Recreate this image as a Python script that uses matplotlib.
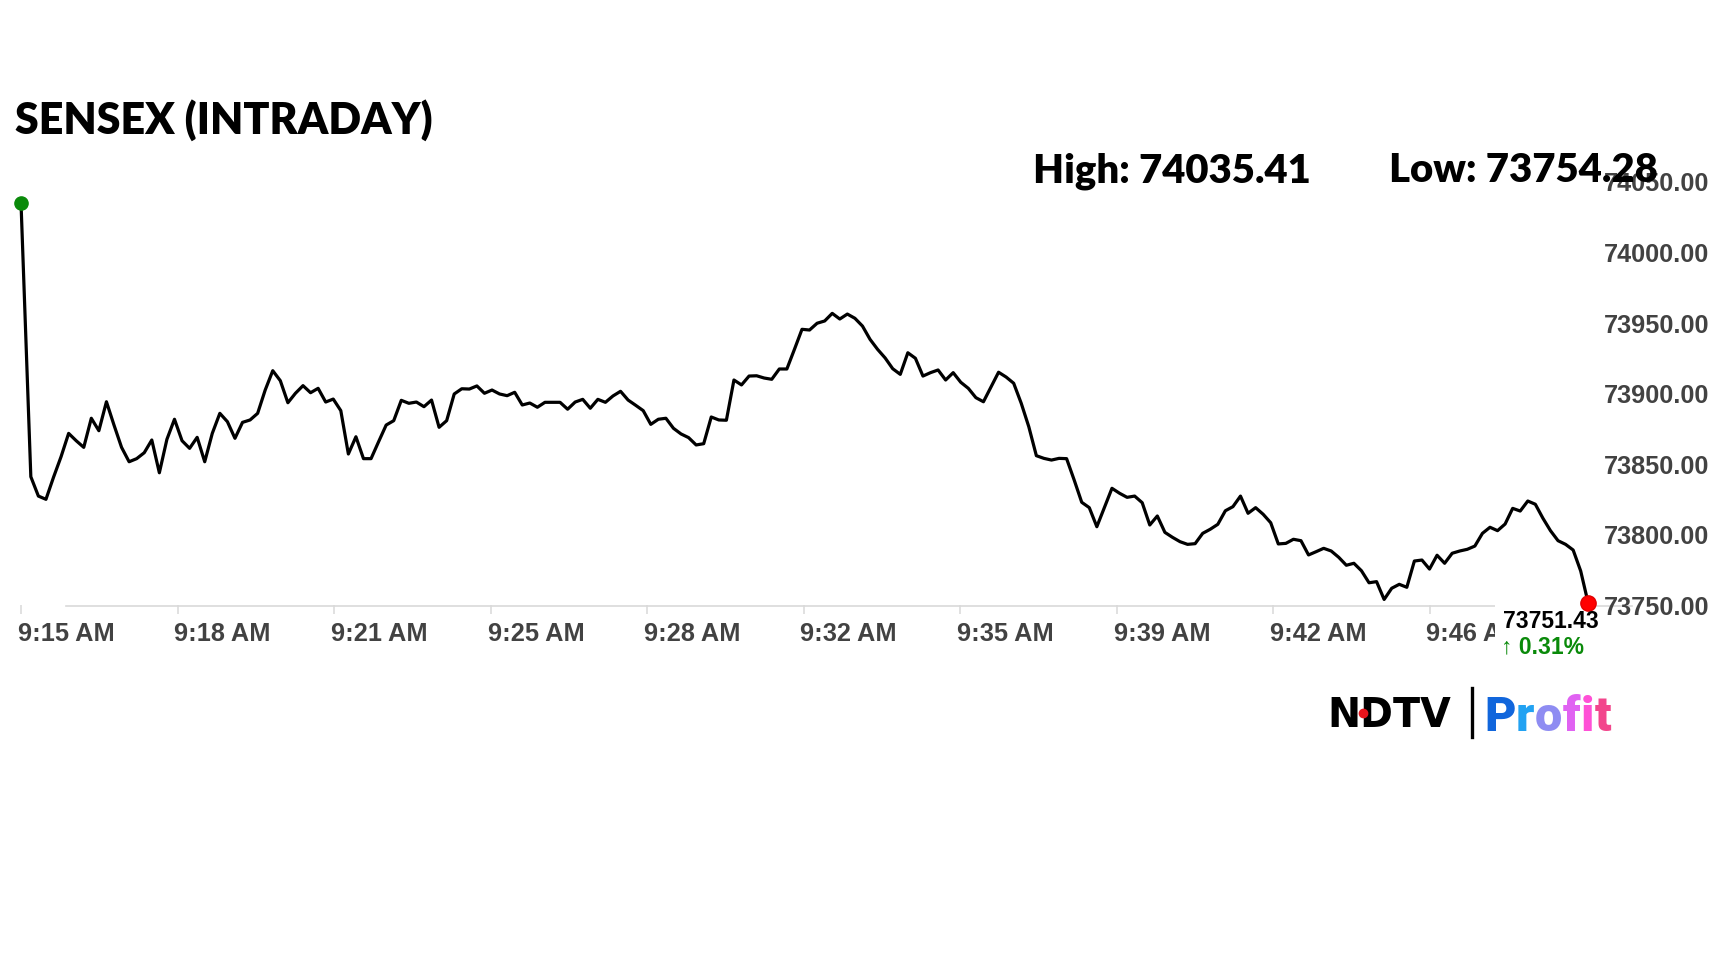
import numpy as np
import matplotlib
matplotlib.use("Agg")
import matplotlib.pyplot as plt
from matplotlib.transforms import ScaledTranslation
from matplotlib.patches import Rectangle
from matplotlib.lines import Line2D

# ---------------- data ----------------
title = "SENSEX (INTRADAY)"
high_text = "High: 74035.41"
low_text = "Low: 73754.28"
last_value_text = "73751.43"
change_text = "\u2191 0.31%"

# price every ~10 s from 9:15 AM (first print at 9:15:00, then 9:15:13, 9:15:23, ...)
prices = [
    74035.41, 73841.2, 73827.5, 73825.2, 73840.8, 73855.4, 73871.9, 73866.7, 73862.0, 73882.6,
    73873.8, 73894.3, 73877.8, 73862.0, 73851.8, 73854.0, 73858.2, 73867.2, 73844.0, 73867.7,
    73881.9, 73866.7, 73861.3, 73869.1, 73851.8, 73871.9, 73886.1, 73880.2, 73868.4, 73879.7,
    73881.4, 73886.1, 73902.6, 73916.3, 73909.2, 73893.6, 73900.3, 73905.7, 73900.7, 73903.8,
    73894.1, 73896.2, 73888.0, 73857.3, 73869.5, 73854.0, 73854.0, 73866.0, 73877.8, 73880.9,
    73895.3, 73893.2, 73894.1, 73890.8, 73895.5, 73876.2, 73880.9, 73899.8, 73903.5, 73903.3,
    73905.5, 73900.3, 73902.6, 73899.8, 73898.6, 73901.0, 73892.0, 73893.4, 73890.4, 73893.9,
    73893.9, 73893.9, 73889.0, 73894.1, 73896.0, 73889.7, 73896.0, 73893.9, 73898.4, 73901.7,
    73895.5, 73891.8, 73888.0, 73878.3, 73881.9, 73882.6, 73875.5, 73871.5, 73868.9, 73863.7,
    73864.6, 73883.5, 73881.4, 73881.2, 73909.7, 73906.2, 73912.5, 73912.7, 73911.1, 73910.2,
    73917.5, 73917.5, 73931.4, 73945.6, 73945.1, 73949.9, 73951.5, 73956.9, 73952.9, 73956.4,
    73953.4, 73947.9, 73938.5, 73931.4, 73925.3, 73917.7, 73913.7, 73929.0, 73925.1, 73912.5,
    73914.9, 73916.8, 73909.7, 73914.9, 73908.1, 73903.8, 73897.2, 73894.3, 73904.7, 73915.2,
    73911.8, 73907.4, 73893.2, 73876.6, 73856.1, 73854.2, 73853.0, 73854.2, 73854.0, 73838.9,
    73823.1, 73819.3, 73805.8, 73819.5, 73833.0, 73829.5, 73826.6, 73827.5, 73822.8, 73807.0,
    73813.4, 73801.8, 73798.3, 73795.2, 73793.3, 73793.8, 73801.1, 73804.0, 73807.5, 73817.1,
    73820.0, 73827.5, 73815.3, 73819.3, 73814.6, 73808.6, 73793.6, 73794.0, 73796.9, 73795.9,
    73785.8, 73788.1, 73790.5, 73788.6, 73784.1, 73778.5, 73779.9, 73774.6, 73766.1, 73766.9,
    73754.28, 73762.2, 73765.0, 73762.9, 73781.5, 73782.2, 73775.8, 73785.6, 73779.9, 73787.0,
    73788.6, 73789.8, 73792.1, 73801.1, 73805.4, 73803.0, 73807.7, 73818.8, 73816.9, 73824.0,
    73821.7, 73811.8, 73803.0, 73795.9, 73793.3, 73789.3, 73774.4, 73751.43,
]
first_gap_s = 13
step_s = 10
times = np.concatenate([[0], first_gap_s + step_s * np.arange(len(prices) - 1)])

tick_step_s = 207
tick_labels = ["9:15 AM", "9:18 AM", "9:21 AM", "9:25 AM", "9:28 AM",
               "9:32 AM", "9:35 AM", "9:39 AM", "9:42 AM", "9:46 AM"]
y_ticks = [73750, 73800, 73850, 73900, 73950, 74000, 74050]

profit_letters = ["P", "r", "o", "f", "i", "t"]
profit_colors = ["#1166dc", "#22a2f2", "#8e8cf2", "#e062f2", "#ff50d6", "#f2468c"]

# ---------------- layout ----------------
W, H = 1728, 972
fig = plt.figure(figsize=(W / 100, H / 100), dpi=100)
fig.patch.set_facecolor("white")


def fx(px):
    return px / W


def fy(py):
    return 1 - py / H


ax_l, ax_r, ax_t, ax_b = 21, 1600, 181.9, 605.5
ax = fig.add_axes([fx(ax_l), fy(ax_b), (ax_r - ax_l) / W, (ax_b - ax_t) / H])
px_per_s = 156.5 / tick_step_s
ax.set_xlim(0, (ax_r - ax_l) / px_per_s)
ax.set_ylim(73750, 74050)
for s in ax.spines.values():
    s.set_visible(False)

gray_txt = "#424242"
axis_gray = "#d9d9d9"

# y axis on the right
ax.yaxis.tick_right()
ax.set_yticks(y_ticks)
ax.set_yticklabels([f"{v:.2f}" for v in y_ticks])
ax.tick_params(axis="y", length=0, pad=2.5, labelsize=18.2, labelcolor=gray_txt)

# x axis
ax.set_xticks(np.arange(len(tick_labels)) * tick_step_s)
ax.set_xticklabels(tick_labels)
ax.tick_params(axis="x", length=6.5, width=1.1, color=axis_gray, pad=5.5,
               labelsize=18.3, labelcolor=gray_txt)
for lab in ax.get_xticklabels() + ax.get_yticklabels():
    lab.set_fontfamily("Liberation Sans")
    lab.set_fontweight("bold")
for lab in ax.get_xticklabels():
    lab.set_horizontalalignment("left")
    lab.set_transform(lab.get_transform() + ScaledTranslation(-3 / 100, 0, fig.dpi_scale_trans))

# baseline
ax.axhline(73750, xmin=(66 - ax_l) / (ax_r - ax_l), xmax=(1632 - ax_l) / (ax_r - ax_l),
           color=axis_gray, lw=1.2, clip_on=False, zorder=1)

# white box behind the last-value label
box = Rectangle((fx(1495), fy(664)), (1594 - 1495) / W, (664 - 600) / H,
                transform=fig.transFigure, facecolor="white", edgecolor="none",
                zorder=3, clip_on=False)
ax.add_artist(box)

# price line
ax.plot(times, prices, color="black", lw=2.3, zorder=4, clip_on=False,
        solid_joinstyle="round")
ax.plot(times[0], prices[0], "o", color="#0a8a0a", ms=9.5, zorder=5, clip_on=False)
ax.plot(times[-1], prices[-1], "o", color="#ff0000", mec="#e00000", ms=11, zorder=5,
        clip_on=False)

# last value annotation
fig.text(fx(1503), fy(628.5), last_value_text, fontsize=16.5, fontweight="bold",
         family="Liberation Sans", color="black", va="baseline", ha="left")
fig.text(fx(1501), fy(653), change_text, fontsize=16.5, fontweight="bold",
         family=["Liberation Sans", "DejaVu Sans"], color="#0a8a0a", va="baseline", ha="left")

# title and high / low
fig.text(fx(15), fy(134), title, fontsize=31, fontweight="heavy", family="Lato",
         color="black", va="baseline", ha="left")
fig.text(fx(1033), fy(182), high_text, fontsize=28.8, fontweight="heavy", family="Lato",
         color="black", va="baseline", ha="left")
fig.text(fx(1389), fy(182), low_text, fontsize=28.8, fontweight="heavy", family="Lato",
         color="black", va="baseline", ha="left")

# logo
fig.text(fx(1327), fy(727), "NDTV", fontsize=28.5, fontweight="heavy", family="DejaVu Sans",
         color="black", va="baseline", ha="left")
fig.add_artist(Line2D([fx(1362.5)], [fy(713)], marker="o", color="#e8141c", ms=6,
                      transform=fig.transFigure, zorder=6))
fig.add_artist(Line2D([fx(1472), fx(1472)], [fy(688), fy(737)], color="black", lw=2.4,
                      transform=fig.transFigure))
renderer = fig.canvas.get_renderer()
x_cur = 1484
for ch, col in zip(profit_letters, profit_colors):
    t = fig.text(fx(x_cur), fy(731), ch, fontsize=35, fontweight="heavy", family="Roboto",
                 color=col, va="baseline", ha="left")
    bb = t.get_window_extent(renderer)
    x_cur = bb.x1 + 0.5

fig.savefig("out.png", dpi=100, facecolor="white")
